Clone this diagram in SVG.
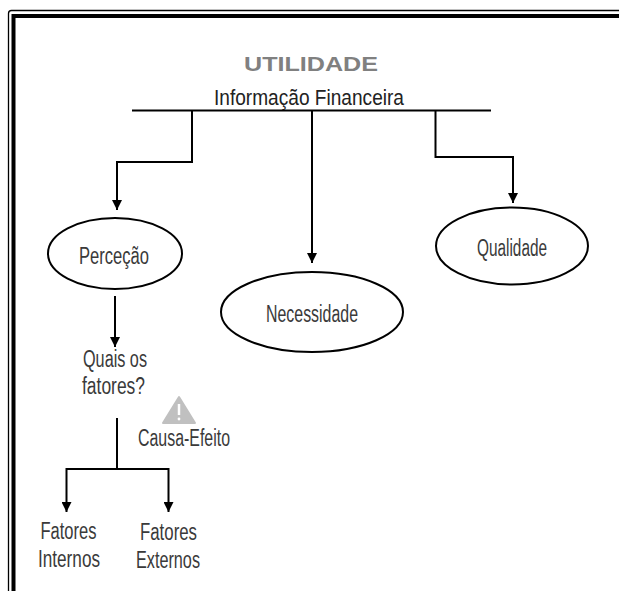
<svg xmlns="http://www.w3.org/2000/svg" width="619" height="591" viewBox="0 0 619 591">
<defs>
<style>
.lbl{font-family:"Liberation Sans",Arial,sans-serif;font-size:23px;fill:#3a3a3a;text-anchor:middle}
.node ellipse{fill:#fff;stroke:#000;stroke-width:2}
.conn{fill:none;stroke:#000;stroke-width:2}
</style>
<marker id="arr" viewBox="0 0 10 10" refX="10" refY="5" markerWidth="5" markerHeight="5" markerUnits="strokeWidth" orient="auto">
<path d="M0,0 L10,5 L0,10 z" fill="#000"/>
</marker>
</defs>
<rect width="619" height="591" fill="#fff"/>
<g id="frame">
<rect x="8.5" y="10.5" width="700" height="700" rx="3" fill="none" stroke="#000" stroke-width="1.3"/>
<rect x="13.5" y="16" width="700" height="700" fill="none" stroke="#000" stroke-width="4"/>
</g>
<g id="title">
<text x="311" y="71" font-family="'Liberation Sans',Arial,sans-serif" font-size="20" font-weight="bold" fill="#808080" text-anchor="middle" textLength="134" lengthAdjust="spacingAndGlyphs">UTILIDADE</text>
<text x="309" y="104.5" class="lbl" style="fill:#222;font-size:21.5px" textLength="190" lengthAdjust="spacingAndGlyphs">Informação Financeira</text>
</g>
<g id="connectors">
<line class="conn" x1="132" y1="110.5" x2="491" y2="110.5"/>
<path class="conn" d="M192,110.5 V162 H117 V210" marker-end="url(#arr)"/>
<path class="conn" d="M312,110.5 V263" marker-end="url(#arr)"/>
<path class="conn" d="M435.5,110.5 V157 H513 V203" marker-end="url(#arr)"/>
<path class="conn" d="M115,296 V347" marker-end="url(#arr)"/>
<path class="conn" d="M117,418 V469"/>
<path class="conn" d="M66.5,469 H168.5"/>
<path class="conn" d="M66.5,468 V512" marker-end="url(#arr)"/>
<path class="conn" d="M168.5,468 V512" marker-end="url(#arr)"/>
</g>
<g id="percecao" class="node">
<ellipse cx="115" cy="253.5" rx="67" ry="35.5"/>
<text class="lbl" x="114" y="263.5" textLength="70" lengthAdjust="spacingAndGlyphs">Perceção</text>
</g>
<g id="necessidade" class="node">
<ellipse cx="312" cy="312" rx="91" ry="40"/>
<text class="lbl" x="312" y="322" textLength="92" lengthAdjust="spacingAndGlyphs">Necessidade</text>
</g>
<g id="qualidade" class="node">
<ellipse cx="512" cy="246" rx="76" ry="38.5"/>
<text class="lbl" x="512" y="256" textLength="70" lengthAdjust="spacingAndGlyphs">Qualidade</text>
</g>
<g id="fatores">
<text class="lbl" x="115" y="367" textLength="64" lengthAdjust="spacingAndGlyphs">Quais os</text>
<text class="lbl" x="113.5" y="394" textLength="63" lengthAdjust="spacingAndGlyphs">fatores?</text>
</g>
<g id="causa-efeito">
<path d="M179,397 L195,423 H163 Z" fill="#c0c0c0" stroke="#c0c0c0" stroke-width="2" stroke-linejoin="round"/>
<path d="M179,404 V415" stroke="#fff" stroke-width="2.5"/>
<circle cx="179" cy="419" r="1.4" fill="#fff"/>
<text class="lbl" x="184" y="445.5" textLength="92" lengthAdjust="spacingAndGlyphs">Causa-Efeito</text>
</g>
<g id="internos">
<text class="lbl" x="68.5" y="539" textLength="56" lengthAdjust="spacingAndGlyphs">Fatores</text>
<text class="lbl" x="69" y="567" textLength="62" lengthAdjust="spacingAndGlyphs">Internos</text>
</g>
<g id="externos">
<text class="lbl" x="168.5" y="539.5" textLength="57" lengthAdjust="spacingAndGlyphs">Fatores</text>
<text class="lbl" x="168" y="568" textLength="64" lengthAdjust="spacingAndGlyphs">Externos</text>
</g>
</svg>
